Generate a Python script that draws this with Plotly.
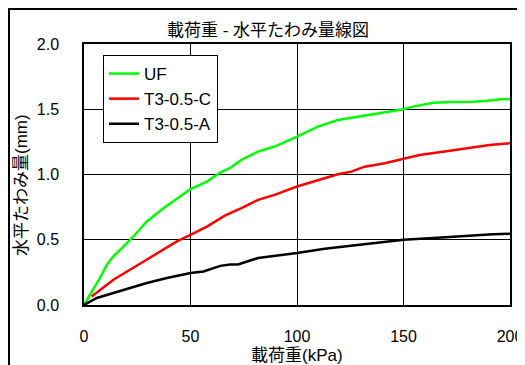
import plotly.graph_objects as go

uf_x = [0, 4.4, 7.5, 10.7, 13.8, 18.5, 23.2, 29.5, 37.3, 45.1, 50, 57.7, 64, 68.6, 73.9, 81.7, 89.5,
        100, 109.8, 119.2, 128.6, 139.5, 150, 154.6, 164, 172, 183, 189.3, 195.6, 200]
uf_y = [0, 0.117, 0.207, 0.308, 0.372, 0.448, 0.525, 0.64, 0.742, 0.831, 0.888, 0.946, 1.015, 1.05, 1.112, 1.175, 1.214,
        1.29, 1.367, 1.418, 1.443, 1.477, 1.5, 1.52, 1.55, 1.556, 1.558, 1.565, 1.576, 1.576]

c_x = [3.6, 7.5, 13.8, 21.6, 29.5, 37.3, 43.6, 50, 57.7, 66.1, 73.9, 81.7, 89.5, 100, 109.8, 119.2, 125.5,
       131.8, 141.2, 150, 157.5, 168.5, 179.4, 190.4, 200]
c_y = [0.066, 0.117, 0.194, 0.27, 0.347, 0.423, 0.487, 0.538, 0.601, 0.685, 0.742, 0.806, 0.844, 0.908, 0.959, 1.002, 1.022,
       1.06, 1.086, 1.122, 1.15, 1.175, 1.201, 1.226, 1.239]

a_x = [0, 6, 13.8, 21.6, 29.5, 38.9, 50, 56.1, 64, 68.6, 72.3, 81.7, 100, 113, 125.5, 138, 150, 164, 179.4, 192, 200]
a_y = [0, 0.054, 0.092, 0.13, 0.168, 0.207, 0.245, 0.257, 0.3, 0.31, 0.31, 0.36, 0.398, 0.431, 0.454, 0.474, 0.5,
       0.513, 0.53, 0.543, 0.546]

names = ["UF", "T3-0.5-C", "T3-0.5-A"]
colors = ["#00ff00", "#ff0000", "#000000"]

FONT = "Liberation Sans, Arial, Noto Sans CJK JP"
OFF = 8  # page body margin
W, H = 525 - OFF, 365 - OFF
L, T = 84 - OFF, 44 - OFF
R, B = W - (510 - OFF), H - (305 - OFF)
PW, PH = W - L - R, H - T - B


def px(x):
    return (x - OFF - L) / PW


def py(y):
    return 1 - (y - OFF - T) / PH


fig = go.Figure()
for xs, ys, nm, col in zip([uf_x, c_x, a_x], [uf_y, c_y, a_y], names, colors):
    fig.add_trace(go.Scatter(x=xs, y=ys, mode="lines", name=nm,
                             line=dict(color=col, width=2.5)))

fig.update_layout(
    width=W, height=H,
    margin=dict(l=L, r=R, t=T, b=B),
    paper_bgcolor="white", plot_bgcolor="white",
    font=dict(family=FONT, size=16, color="black"),
    showlegend=True,
    legend=dict(x=px(103), y=py(55), xanchor="left", yanchor="top",
                bordercolor="black", borderwidth=1, bgcolor="white",
                font=dict(size=17, family=FONT), tracegroupgap=0,
                itemwidth=30),
    xaxis=dict(range=[0, 200], dtick=50, showgrid=True, gridcolor="black", gridwidth=1,
               showline=True, linecolor="black", linewidth=1.5, mirror=True,
               ticks="outside", ticklen=16, tickcolor="white", zeroline=False,
               tickfont=dict(size=16), automargin=False),
    yaxis=dict(range=[0, 2], dtick=0.5, tickformat=".1f", showgrid=True, gridcolor="black", gridwidth=1,
               showline=True, linecolor="black", linewidth=1.5, mirror=True,
               ticks="outside", ticklen=20, tickcolor="white", zeroline=False,
               tickfont=dict(size=16), automargin=False),
    annotations=[
        dict(text="載荷重 - 水平たわみ量線図", xref="paper", yref="paper",
             x=px(268), y=py(30), xanchor="center", yanchor="middle",
             showarrow=False, font=dict(size=17, family=FONT)),
        dict(text="載荷重(kPa)", xref="paper", yref="paper",
             x=px(297), y=py(355), xanchor="center", yanchor="middle",
             showarrow=False, font=dict(size=17, family=FONT)),
        dict(text="水平たわみ量(mm)", xref="paper", yref="paper",
             x=px(21), y=py(185), xanchor="center", yanchor="middle", textangle=-90,
             showarrow=False, font=dict(size=17, family=FONT)),
    ],
    shapes=[dict(type="rect", xref="paper", yref="paper",
                 x0=px(OFF + 1), x1=1.2, y0=-0.4, y1=py(OFF + 1),
                 line=dict(color="black", width=2), layer="below")],
)

fig.write_html("out.html")
